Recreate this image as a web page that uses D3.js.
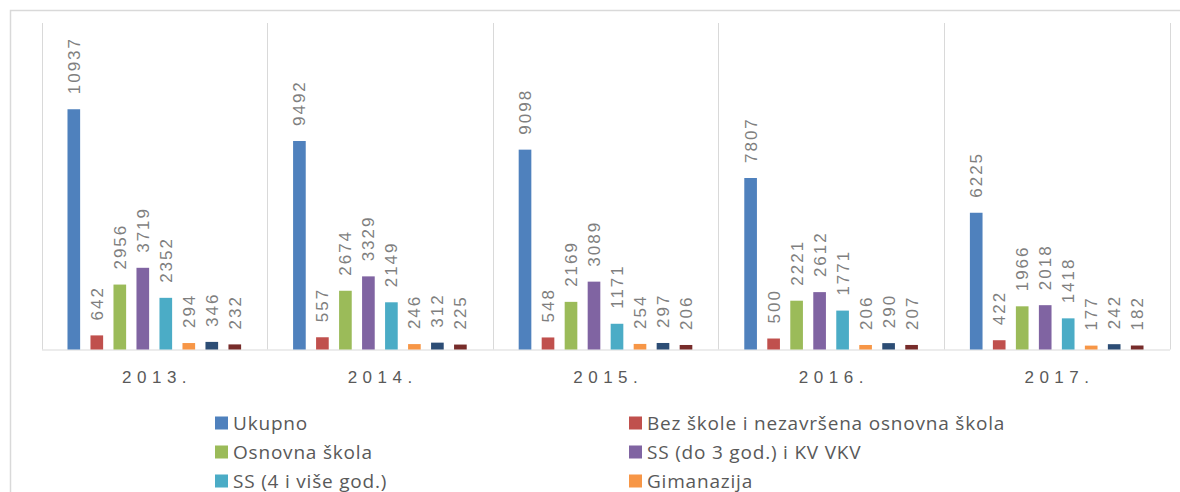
<!DOCTYPE html>
<html>
<head>
<meta charset="utf-8">
<script src="https://cdn.jsdelivr.net/npm/d3@7"></script>
<style>
  body { margin: 0; background: #fff; }
  svg { display: block; }
</style>
</head>
<body>
<div id="chart-area"></div>
<script>

// Data
let years = ["2013.", "2014.", "2015.", "2016.", "2017."];
let seriesNames = [
    "Ukupno",
    "Bez škole i nezavršena osnovna škola",
    "Osnovna škola",
    "SS (do 3 god.) i KV VKV",
    "SS (4 i više god.)",
    "Gimanazija",
    "Viša škola",
    "Visoka škola"
];
let seriesColors = ["#4f81bd", "#c0504d", "#9bbb59", "#8064a2", "#4bacc6", "#f79646", "#2c4d75", "#772c2a"];
let values = [
    [10937, 642, 2956, 3719, 2352, 294, 346, 232],
    [9492, 557, 2674, 3329, 2149, 246, 312, 225],
    [9098, 548, 2169, 3089, 1171, 254, 297, 206],
    [7807, 500, 2221, 2612, 1771, 206, 290, 207],
    [6225, 422, 1966, 2018, 1418, 177, 242, 182]
];

let width = 1180, height = 492;
let plot = {left: 41.5, right: 1169.5, top: 20, bottom: 349.5};

let svg = d3.select("#chart-area").append("svg")
    .attr("width", width)
    .attr("height", height);

// chart border
svg.append("rect")
    .attr("x", 10.5).attr("y", 10.5)
    .attr("width", 1200).attr("height", 600)
    .attr("fill", "none")
    .attr("stroke", "#d9d9d9")
    .attr("stroke-width", 1.5);

// Scales
let x0 = d3.scaleBand()
    .domain(years)
    .range([plot.left, plot.right]);

let x1 = d3.scaleBand()
    .domain(seriesNames)
    .range([0, x0.bandwidth()])
    .paddingInner(0.45)
    .paddingOuter(1.13);

let y = d3.scaleLinear()
    .domain([0, 15000])
    .range([plot.bottom, plot.top]);

// group separators
let seps = years.map(d => x0(d)).concat([plot.right]);
svg.selectAll(".sep")
    .data(seps)
  .enter().append("line")
    .attr("class", "sep")
    .attr("x1", d => Math.round(d) + 0.5)
    .attr("x2", d => Math.round(d) + 0.5)
    .attr("y1", 23)
    .attr("y2", plot.bottom)
    .attr("stroke", "#d9d9d9")
    .attr("stroke-width", 1);

// x axis
let xAxis = svg.append("g")
    .attr("transform", "translate(0," + plot.bottom + ")")
    .call(d3.axisBottom(x0).tickSize(0).tickPadding(0));
xAxis.select(".domain").attr("stroke", "#d9d9d9").attr("stroke-width", 1.2);
xAxis.selectAll("text")
    .attr("dy", 0)
    .attr("y", 33)
    .attr("fill", "#595959")
    .style("font-family", "'Liberation Sans', Arial, sans-serif")
    .style("font-size", "17px")
    .style("letter-spacing", "5.5px")
    .attr("dx", "2.75px");

// bars
let groups = svg.selectAll(".year")
    .data(values)
  .enter().append("g")
    .attr("class", "year")
    .attr("transform", (d, i) => "translate(" + x0(years[i]) + ",0)");

groups.selectAll("rect")
    .data(d => d.map((v, j) => ({name: seriesNames[j], value: v, color: seriesColors[j]})))
  .enter().append("rect")
    .attr("x", d => x1(d.name))
    .attr("y", d => y(d.value))
    .attr("width", x1.bandwidth())
    .attr("height", d => plot.bottom - y(d.value))
    .attr("fill", d => d.color);

// data labels
groups.selectAll(".lbl")
    .data(d => d.map((v, j) => ({name: seriesNames[j], value: v})))
  .enter().append("text")
    .attr("class", "lbl")
    .attr("transform", d => "translate(" + (x1(d.name) + x1.bandwidth() / 2) + "," + (y(d.value) - 15) + ") rotate(-90)")
    .attr("dy", "0.35em")
    .attr("fill", "#7f7f7f")
    .style("font-family", "'Liberation Sans', Arial, sans-serif")
    .style("font-size", "17px")
    .style("letter-spacing", "2px")
    .text(d => d.value);

// legend
let legend = svg.append("g")
    .style("font-family", "'Open Sans', sans-serif")
    .style("font-size", "19px")
    .style("letter-spacing", "0.8px")
    .attr("fill", "#595959");

let legendCols = [215, 629];
let legendRows = [423, 452, 481, 510];

let items = legend.selectAll(".item")
    .data(seriesNames)
  .enter().append("g")
    .attr("class", "item")
    .attr("transform", (d, i) => "translate(" + legendCols[i % 2] + "," + legendRows[Math.floor(i / 2)] + ")");

items.append("rect")
    .attr("x", 0).attr("y", -6.5)
    .attr("width", 13).attr("height", 13)
    .attr("fill", (d, i) => seriesColors[i]);

items.append("text")
    .attr("x", 18)
    .attr("dy", "0.35em")
    .text(d => d);

</script>
</body>
</html>
